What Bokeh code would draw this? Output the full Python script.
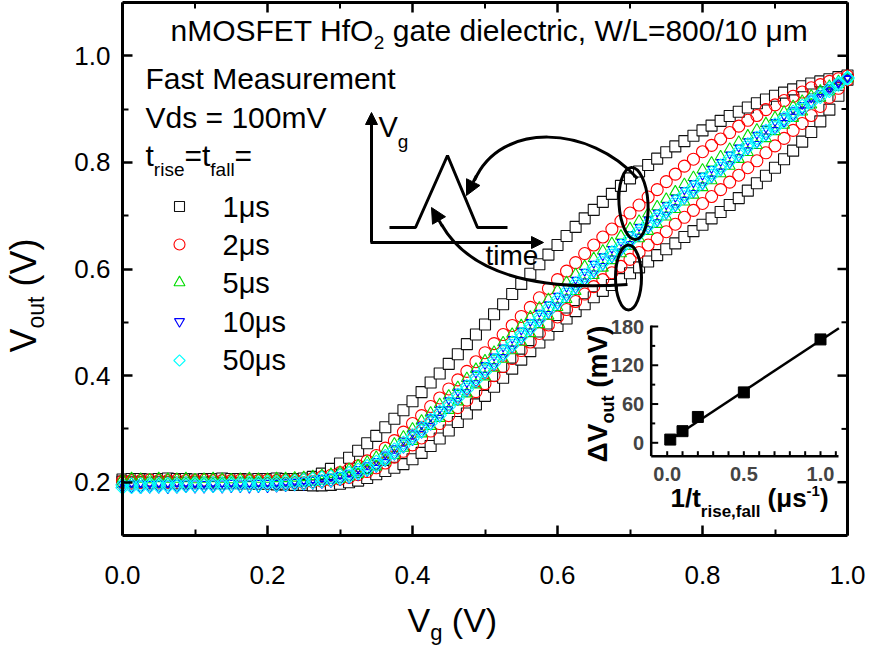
import math
from bokeh.plotting import figure
from bokeh.models import (Label, Arrow, NormalHead, FixedTicker, Range1d,
                          NumeralTickFormatter)
from bokeh.embed import file_html
from bokeh.resources import INLINE

# ---------------- data ----------------
VG = [0.0, 0.0125, 0.025, 0.0375, 0.05, 0.0625, 0.075, 0.0875, 0.1, 0.1125,
      0.125, 0.1375, 0.15, 0.1625, 0.175, 0.1875, 0.2, 0.2125, 0.225, 0.2375,
      0.25, 0.2625, 0.275, 0.2875, 0.3, 0.3125, 0.325, 0.3375, 0.35, 0.3625,
      0.375, 0.3875, 0.4, 0.4125, 0.425, 0.4375, 0.45, 0.4625, 0.475, 0.4875,
      0.5, 0.5125, 0.525, 0.5375, 0.55, 0.5625, 0.575, 0.5875, 0.6, 0.6125,
      0.625, 0.6375, 0.65, 0.6625, 0.675, 0.6875, 0.7, 0.7125, 0.725, 0.7375,
      0.75, 0.7625, 0.775, 0.7875, 0.8, 0.8125, 0.825, 0.8375, 0.85, 0.8625,
      0.875, 0.8875, 0.9, 0.9125, 0.925, 0.9375, 0.95, 0.9625, 0.975, 0.9875, 1.0]

# t_rise = t_fall = 1 us
BLACK_UP = [0.205, 0.206, 0.206, 0.205, 0.206, 0.207, 0.206, 0.206, 0.205, 0.206,
            0.206, 0.207, 0.206, 0.206, 0.205, 0.206, 0.206, 0.207, 0.206, 0.206,
            0.207, 0.210, 0.216, 0.225, 0.235, 0.246, 0.259, 0.273, 0.287, 0.303,
            0.319, 0.335, 0.352, 0.369, 0.387, 0.404, 0.422, 0.440, 0.459, 0.477,
            0.496, 0.515, 0.534, 0.553, 0.572, 0.591, 0.609, 0.627, 0.645, 0.662,
            0.679, 0.695, 0.711, 0.726, 0.741, 0.756, 0.770, 0.783, 0.795, 0.807,
            0.819, 0.830, 0.840, 0.850, 0.860, 0.869, 0.878, 0.887, 0.895, 0.903,
            0.911, 0.918, 0.925, 0.931, 0.937, 0.943, 0.948, 0.952, 0.956, 0.960, 0.963]
BLACK_DN = [0.201, 0.200, 0.200, 0.199, 0.200, 0.200, 0.199, 0.199, 0.200, 0.199,
            0.199, 0.198, 0.199, 0.198, 0.198, 0.197, 0.197, 0.196, 0.196, 0.195,
            0.195, 0.194, 0.194, 0.195, 0.197, 0.200, 0.203, 0.208, 0.215, 0.221,
            0.227, 0.234, 0.243, 0.255, 0.268, 0.282, 0.297, 0.313, 0.329, 0.346,
            0.362, 0.379, 0.396, 0.413, 0.430, 0.446, 0.462, 0.477, 0.493, 0.507,
            0.521, 0.534, 0.547, 0.559, 0.570, 0.581, 0.592, 0.603, 0.614, 0.626,
            0.637, 0.648, 0.660, 0.671, 0.683, 0.695, 0.707, 0.720, 0.733, 0.747,
            0.761, 0.775, 0.790, 0.806, 0.822, 0.839, 0.857, 0.877, 0.899, 0.925, 0.955]
# 2 us
RED_UP = [0.202, 0.203, 0.203, 0.204, 0.203, 0.203, 0.204, 0.203, 0.203, 0.204,
          0.203, 0.203, 0.203, 0.204, 0.203, 0.203, 0.204, 0.203, 0.204, 0.204,
          0.204, 0.207, 0.210, 0.213, 0.218, 0.224, 0.231, 0.240, 0.250, 0.264,
          0.278, 0.294, 0.310, 0.325, 0.342, 0.358, 0.375, 0.392, 0.408, 0.426,
          0.443, 0.460, 0.477, 0.494, 0.511, 0.528, 0.546, 0.563, 0.580, 0.596,
          0.612, 0.629, 0.645, 0.660, 0.675, 0.690, 0.705, 0.720, 0.735, 0.749,
          0.764, 0.778, 0.793, 0.806, 0.820, 0.832, 0.844, 0.856, 0.868, 0.879,
          0.888, 0.899, 0.908, 0.916, 0.924, 0.932, 0.940, 0.946, 0.952, 0.957, 0.962]
RED_DN = [0.198, 0.198, 0.199, 0.198, 0.198, 0.199, 0.198, 0.198, 0.199, 0.198,
          0.198, 0.198, 0.199, 0.198, 0.198, 0.198, 0.198, 0.199, 0.198, 0.199,
          0.199, 0.201, 0.202, 0.204, 0.206, 0.209, 0.214, 0.220, 0.227, 0.236,
          0.247, 0.258, 0.270, 0.283, 0.296, 0.310, 0.325, 0.340, 0.354, 0.370,
          0.385, 0.400, 0.417, 0.432, 0.447, 0.463, 0.479, 0.495, 0.510, 0.524,
          0.539, 0.553, 0.567, 0.580, 0.593, 0.605, 0.618, 0.631, 0.645, 0.657,
          0.670, 0.684, 0.697, 0.710, 0.723, 0.736, 0.749, 0.763, 0.776, 0.790,
          0.803, 0.818, 0.831, 0.845, 0.860, 0.873, 0.888, 0.905, 0.922, 0.939, 0.955]
# 5 us
GREEN_UP = [0.206, 0.207, 0.206, 0.205, 0.207, 0.206, 0.206, 0.207, 0.205, 0.206,
            0.207, 0.206, 0.205, 0.206, 0.207, 0.206, 0.206, 0.207, 0.207, 0.208,
            0.209, 0.211, 0.213, 0.215, 0.219, 0.224, 0.231, 0.238, 0.247, 0.259,
            0.272, 0.285, 0.300, 0.315, 0.330, 0.346, 0.362, 0.378, 0.395, 0.412,
            0.428, 0.444, 0.462, 0.478, 0.494, 0.510, 0.527, 0.543, 0.560, 0.575,
            0.590, 0.605, 0.620, 0.634, 0.648, 0.662, 0.676, 0.690, 0.704, 0.717,
            0.731, 0.745, 0.759, 0.772, 0.786, 0.799, 0.811, 0.825, 0.838, 0.850,
            0.861, 0.873, 0.884, 0.895, 0.905, 0.915, 0.925, 0.934, 0.943, 0.952, 0.960]
GREEN_DN = [0.198, 0.197, 0.198, 0.198, 0.197, 0.198, 0.198, 0.197, 0.198, 0.198,
            0.197, 0.198, 0.198, 0.197, 0.198, 0.198, 0.198, 0.198, 0.198, 0.199,
            0.199, 0.200, 0.202, 0.204, 0.206, 0.210, 0.215, 0.222, 0.229, 0.240,
            0.251, 0.264, 0.277, 0.291, 0.305, 0.320, 0.335, 0.351, 0.366, 0.383,
            0.398, 0.414, 0.431, 0.447, 0.463, 0.479, 0.496, 0.512, 0.528, 0.543,
            0.558, 0.573, 0.588, 0.602, 0.616, 0.629, 0.643, 0.657, 0.671, 0.684,
            0.698, 0.712, 0.726, 0.739, 0.753, 0.766, 0.779, 0.793, 0.806, 0.819,
            0.832, 0.845, 0.858, 0.870, 0.883, 0.895, 0.908, 0.921, 0.933, 0.946, 0.957]
# 10 us
BLUE_UP = [0.197, 0.198, 0.198, 0.197, 0.198, 0.198, 0.199, 0.198, 0.198, 0.197,
           0.198, 0.198, 0.199, 0.198, 0.198, 0.199, 0.199, 0.199, 0.200, 0.201,
           0.203, 0.205, 0.208, 0.210, 0.214, 0.218, 0.225, 0.232, 0.240, 0.252,
           0.264, 0.278, 0.292, 0.307, 0.322, 0.337, 0.354, 0.370, 0.386, 0.404,
           0.420, 0.436, 0.453, 0.469, 0.485, 0.501, 0.518, 0.534, 0.550, 0.565,
           0.580, 0.595, 0.610, 0.624, 0.638, 0.651, 0.665, 0.679, 0.693, 0.706,
           0.720, 0.734, 0.748, 0.761, 0.775, 0.788, 0.801, 0.815, 0.828, 0.840,
           0.852, 0.864, 0.876, 0.887, 0.898, 0.908, 0.920, 0.930, 0.940, 0.950, 0.959]
BLUE_DN = [0.187, 0.188, 0.187, 0.188, 0.188, 0.187, 0.188, 0.189, 0.188, 0.188,
           0.189, 0.188, 0.189, 0.189, 0.188, 0.189, 0.189, 0.190, 0.191, 0.192,
           0.193, 0.195, 0.197, 0.199, 0.202, 0.206, 0.212, 0.219, 0.227, 0.238,
           0.250, 0.263, 0.277, 0.291, 0.306, 0.321, 0.337, 0.353, 0.369, 0.386,
           0.402, 0.418, 0.435, 0.451, 0.467, 0.483, 0.500, 0.516, 0.532, 0.547,
           0.562, 0.577, 0.592, 0.606, 0.620, 0.633, 0.647, 0.661, 0.675, 0.688,
           0.702, 0.716, 0.730, 0.743, 0.757, 0.770, 0.783, 0.797, 0.810, 0.823,
           0.835, 0.849, 0.861, 0.874, 0.886, 0.898, 0.911, 0.923, 0.935, 0.947, 0.957]
# 50 us
CYAN_UP = [0.195, 0.196, 0.196, 0.197, 0.197, 0.197, 0.197, 0.198, 0.198, 0.198,
           0.198, 0.198, 0.199, 0.199, 0.199, 0.199, 0.200, 0.200, 0.201, 0.202,
           0.204, 0.206, 0.208, 0.210, 0.213, 0.217, 0.223, 0.230, 0.238, 0.249,
           0.261, 0.274, 0.288, 0.302, 0.317, 0.332, 0.348, 0.364, 0.380, 0.397,
           0.413, 0.429, 0.446, 0.462, 0.478, 0.494, 0.511, 0.527, 0.543, 0.558,
           0.573, 0.588, 0.603, 0.617, 0.631, 0.644, 0.658, 0.672, 0.686, 0.699,
           0.713, 0.727, 0.741, 0.754, 0.768, 0.781, 0.794, 0.808, 0.821, 0.834,
           0.846, 0.859, 0.871, 0.883, 0.895, 0.906, 0.917, 0.928, 0.939, 0.949, 0.959]
CYAN_DN = [0.190, 0.191, 0.191, 0.192, 0.192, 0.192, 0.192, 0.193, 0.193, 0.193,
           0.193, 0.193, 0.194, 0.194, 0.194, 0.194, 0.195, 0.195, 0.196, 0.197,
           0.198, 0.200, 0.202, 0.204, 0.207, 0.211, 0.217, 0.224, 0.232, 0.243,
           0.255, 0.268, 0.282, 0.296, 0.311, 0.326, 0.342, 0.358, 0.374, 0.391,
           0.407, 0.423, 0.440, 0.456, 0.472, 0.488, 0.505, 0.521, 0.537, 0.552,
           0.567, 0.582, 0.597, 0.611, 0.625, 0.638, 0.652, 0.666, 0.680, 0.693,
           0.707, 0.721, 0.735, 0.748, 0.762, 0.775, 0.788, 0.802, 0.815, 0.828,
           0.840, 0.853, 0.865, 0.877, 0.889, 0.900, 0.912, 0.923, 0.934, 0.946, 0.957]

LEGEND_LABELS = ["1μs", "2μs", "5μs", "10μs", "50μs"]

# inset: hysteresis vs 1/t_rise,fall
INSET_INV_T = [0.02, 0.1, 0.2, 0.5, 1.0]
INSET_DV = [5, 18, 40, 78, 160]
FIT_INV_T = [0.0, 1.12]
FIT_DV = [1.5, 177.3]

XTICKS = [0.0, 0.2, 0.4, 0.6, 0.8, 1.0]
XMINOR = [0.1, 0.3, 0.5, 0.7, 0.9]
YTICKS = [0.2, 0.4, 0.6, 0.8, 1.0]
YMINOR = [0.3, 0.5, 0.7, 0.9]
INSET_XTICKS = [0.0, 0.5, 1.0]
INSET_XMINOR = [0.0, 0.1, 0.2, 0.3, 0.4, 0.5, 0.6, 0.7, 0.8, 0.9, 1.0, 1.1]
INSET_YTICKS = [0, 60, 120, 180]
INSET_YMINOR = [30, 90, 150]

# ---------------- layout constants (page pixels) ----------------
W, H = 869, 647
FL, FR, FT, FB = 122, 847, 2, 535      # the plot box
X0, X1, Y0, Y1 = 0.0, 1.0, 0.1, 1.1    # data limits of the plot box
FONT = "Liberation Sans"
MID = 0.36                             # cap-centre above the baseline, in em


def dx(px):
    return X0 + (px - FL) / (FR - FL) * (X1 - X0)


def dy(py):
    return Y1 - (py - FT) / (FB - FT) * (Y1 - Y0)


IPX0, IPX1 = 666.7, 820.0
IPY0, IPY180 = 442.3, 326.0
isx = (IPX1 - IPX0)
isy = (IPY0 - IPY180) / 180.0
IX_RANGE = Range1d((0 - IPX0) / isx, (W - IPX0) / isx)
IY_RANGE = Range1d((IPY0 - H) / isy, (IPY0 - 0) / isy)
INSET_XLIM = ((650.7 - IPX0) / isx, (838.0 - IPX0) / isx)
INSET_YLIM = ((IPY0 - 455.7) / isy, (IPY0 - 325.0) / isy)

AW = {' ': 278, '(': 333, ')': 333, ',': 278, '-': 333, '.': 278, '/': 278, '=': 584,
      'D': 722, 'E': 667, 'F': 611, 'H': 722, 'L': 556, 'M': 833, 'O': 778, 'S': 667,
      'T': 611, 'V': 667, 'W': 944, 'a': 556, 'c': 500, 'd': 556, 'e': 556, 'f': 278,
      'g': 556, 'i': 222, 'l': 222, 'm': 833, 'n': 556, 'o': 556, 'r': 333, 's': 500,
      't': 278, 'u': 556, 'μ': 576, 'Δ': 668}
BW = {' ': 278, '(': 333, ')': 333, ',': 278, '-': 333, '.': 278, '/': 278,
      'V': 667, 'a': 556, 'e': 556, 'f': 333, 'i': 278, 'l': 278, 'm': 889, 'o': 611,
      'r': 389, 's': 556, 't': 333, 'u': 611, 'μ': 611, 'Δ': 722}


def tw(s, size, bold=False):
    tab = BW if bold else AW
    return sum(tab.get(c, 556) for c in s) * size / 1000.0


# the frame covers the whole canvas; the plot box is drawn by fixed-location axes
p = figure(width=W, height=H, x_range=Range1d(dx(0), dx(W)), y_range=Range1d(dy(H), dy(0)),
           output_backend="svg", toolbar_location=None, title=None, min_border=0)
p.extra_x_ranges = {"ix": IX_RANGE}
p.extra_y_ranges = {"iy": IY_RANGE}
p.xgrid.visible = False
p.ygrid.visible = False
p.outline_line_color = None
p.background_fill_color = "white"
p.border_fill_color = "white"


def rich(px0, py0, pieces, angle=0.0):
    """Place text pieces one after another; (px0, py0) is the baseline start."""
    pos = 0.0
    for text, size, shift, bold in pieces:
        lead = len(text) - len(text.lstrip(" "))
        pos += tw(" " * lead, size, bold)
        text = text.lstrip(" ")
        if angle == 0.0:
            x, y = px0 + pos, py0 + shift - MID * size
        else:
            x, y = px0 + shift - MID * size, py0 - pos
        p.add_layout(Label(x=dx(x), y=dy(y), text=text, angle=angle,
                           text_font=FONT, text_font_size=f"{size}px",
                           text_font_style="bold" if bold else "normal",
                           text_align="left", text_baseline="middle",
                           text_color="black"))
        pos += tw(text, size, bold)


def style_axis(ax, ticks, minor, standoff, loc, bounds):
    ax.fixed_location = loc
    ax.bounds = bounds
    ax.ticker = FixedTicker(ticks=ticks, minor_ticks=minor)
    ax.axis_line_width = 3
    ax.axis_line_color = "black"
    ax.major_tick_in = 10
    ax.major_tick_out = 0
    ax.minor_tick_in = 6
    ax.minor_tick_out = 0
    ax.major_tick_line_width = 2.5
    ax.minor_tick_line_width = 2
    ax.major_tick_line_color = "black"
    ax.minor_tick_line_color = "black"
    ax.formatter = NumeralTickFormatter(format="0.0")
    ax.major_label_text_font = FONT
    ax.major_label_text_font_size = "26px"
    ax.major_label_text_color = "black"
    ax.major_label_standoff = standoff


style_axis(p.xaxis[0], XTICKS, XMINOR, 30, Y0, (X0, X1))
style_axis(p.yaxis[0], YTICKS, YMINOR, 12, X0, (Y0, Y1))

# top and right sides of the box, with mirrored ticks
p.segment(x0=[X0, X1], y0=[Y1, Y0], x1=[X1, X1], y1=[Y1, Y1], line_width=3,
          line_color="black")
mj_y = 10 / (FB - FT) * (Y1 - Y0)
mn_y = 6 / (FB - FT) * (Y1 - Y0)
mj_x = 10 / (FR - FL) * (X1 - X0)
mn_x = 6 / (FR - FL) * (X1 - X0)
p.segment(x0=XTICKS, y0=[Y1] * len(XTICKS), x1=XTICKS, y1=[Y1 - mj_y] * len(XTICKS),
          line_width=2.5, line_color="black")
p.segment(x0=XMINOR, y0=[Y1] * len(XMINOR), x1=XMINOR, y1=[Y1 - mn_y] * len(XMINOR),
          line_width=2, line_color="black")
p.segment(x0=[X1] * len(YTICKS), y0=YTICKS, x1=[X1 - mj_x] * len(YTICKS), y1=YTICKS,
          line_width=2.5, line_color="black")
p.segment(x0=[X1] * len(YMINOR), y0=YMINOR, x1=[X1 - mn_x] * len(YMINOR), y1=YMINOR,
          line_width=2, line_color="black")

# ---------------- main data ----------------
SERIES = [
    (BLACK_UP, BLACK_DN, "square", 11, "#111111", "white", 0.0),
    (RED_UP, RED_DN, "circle", 12, "red", None, 0.0),
    (GREEN_UP, GREEN_DN, "triangle", 11, "#00dd00", None, 0.0),
    (BLUE_UP, BLUE_DN, "inverted_triangle", 8, "blue", None, 0.0),
    (CYAN_UP, CYAN_DN, "square", 9.5, "cyan", None, math.pi / 4),
]
for up, dn, mk, sz, col, fill, ang in SERIES:
    for branch in (up, dn):
        p.scatter(VG, branch, marker=mk, size=sz, line_color=col, fill_color=fill,
                  line_width=1.1, angle=ang)

# title & notes
rich(170, 41, [("nMOSFET HfO", 30, 0, False), ("2", 19, 8, False),
               (" gate dielectric, W/L=800/10 μm", 30, 0, False)])
rich(145, 89, [("Fast Measurement", 30, 0, False)])
rich(145, 128, [("Vds = 100mV", 30, 0, False)])
rich(145, 166, [("t", 30, 0, False), ("rise", 19, 10, False), ("=t", 30, 0, False),
                ("fall", 19, 10, False), ("=", 30, 0, False)])

# legend
LEG_Y = [206, 244, 282, 321, 360]
LEG_BASE = [217, 255, 293, 332, 370]
LEG_MK = [("square", 10, "#111111", 0.0), ("circle", 11, "red", 0.0),
          ("triangle", 11, "#00dd00", 0.0), ("inverted_triangle", 10, "blue", 0.0),
          ("square", 8, "cyan", math.pi / 4)]
for lab, yy, yb, (mk, sz, col, ang) in zip(LEGEND_LABELS, LEG_Y, LEG_BASE, LEG_MK):
    p.scatter([dx(179)], [dy(yy)], marker=mk, size=sz, line_color=col,
              fill_color=None, line_width=1.1, angle=ang)
    rich(222, yb, [(lab, 29, 0, False)])

# axis titles
rich(36, 352, [("V", 36, 0, False), ("out", 23, 8, False), (" (V)", 36, 0, False)],
     angle=math.pi / 2)
rich(407, 632, [("V", 34, 0, False), ("g", 22, 8, False), (" (V)", 34, 0, False)])

# ---------------- schematic ----------------
p.line([dx(389), dx(415), dx(447), dx(477), dx(507)],
       [dy(227), dy(227), dy(155), dy(227), dy(227)], line_width=3, line_color="black")
p.add_layout(Arrow(end=NormalHead(size=12, fill_color="black", line_color="black"),
                   x_start=dx(371), y_start=dy(242), x_end=dx(371), y_end=dy(112),
                   line_width=3, line_color="black"))
p.add_layout(Arrow(end=NormalHead(size=12, fill_color="black", line_color="black"),
                   x_start=dx(370), y_start=dy(242), x_end=dx(543), y_end=dy(242),
                   line_width=3, line_color="black"))
rich(378, 137, [("V", 29, 0, False), ("g", 19, 11, False)])
rich(485, 265, [("time", 28, 0, False)])

p.ellipse(x=[dx(633), dx(628)], y=[dy(203), dy(277)], width=[29, 26], height=[72, 65],
          width_units="screen", height_units="screen", angle=[0.06, 0.0],
          fill_color=None, line_color="black", line_width=3)
p.bezier(x0=[dx(637), dx(627)], y0=[dy(178), dy(284)],
         cx0=[dx(590), dx(540)], cy0=[dy(125), dy(290)],
         cx1=[dx(500), dx(470)], cy1=[dy(120), dy(275)],
         x1=[dx(474), dx(441)], y1=[dy(180), dy(224)],
         line_width=3, line_color="black")
p.add_layout(Arrow(end=NormalHead(size=15, fill_color="black", line_color="black"),
                   x_start=dx(476), y_start=dy(175), x_end=dx(466), y_end=dy(195),
                   line_width=3, line_color="black"))
p.add_layout(Arrow(end=NormalHead(size=15, fill_color="black", line_color="black"),
                   x_start=dx(442), y_start=dy(226), x_end=dx(431), y_end=dy(207),
                   line_width=3, line_color="black"))

# ---------------- inset ----------------
IR = dict(x_range_name="ix", y_range_name="iy")
xl0, xl1 = INSET_XLIM
yl0, yl1 = INSET_YLIM
p.line([xl0, xl1], [yl0, yl0], line_width=2.5, line_color="black", **IR)
p.line([xl0, xl0], [yl0, yl1], line_width=2.5, line_color="black", **IR)
p.segment(x0=INSET_XMINOR, y0=[yl0] * len(INSET_XMINOR), x1=INSET_XMINOR,
          y1=[yl0 + 5 / isy] * len(INSET_XMINOR), line_width=2, line_color="black", **IR)
p.segment(x0=[xl0] * len(INSET_YTICKS), y0=INSET_YTICKS,
          x1=[xl0 + 7 / isx] * len(INSET_YTICKS), y1=INSET_YTICKS,
          line_width=2, line_color="black", **IR)
p.segment(x0=[xl0] * len(INSET_YMINOR), y0=INSET_YMINOR,
          x1=[xl0 + 4 / isx] * len(INSET_YMINOR), y1=INSET_YMINOR,
          line_width=2, line_color="black", **IR)
p.line(FIT_INV_T, FIT_DV, line_width=2.5, line_color="black", **IR)
p.scatter(INSET_INV_T, INSET_DV, marker="square", size=11, line_color="black",
          fill_color="black", **IR)
for t in INSET_XTICKS:
    p.add_layout(Label(x=t, y=yl0, y_offset=-11, text=f"{t:.1f}", x_range_name="ix",
                       y_range_name="iy", text_font=FONT, text_font_size="20px",
                       text_font_style="bold", text_align="center", text_baseline="top"))
for t in INSET_YTICKS:
    p.add_layout(Label(x=xl0, x_offset=-7, y=t, text=f"{t}", x_range_name="ix",
                       y_range_name="iy", text_font=FONT, text_font_size="20px",
                       text_font_style="bold", text_align="right", text_baseline="middle"))
rich(670, 507, [("1/t", 26, 0, True), ("rise,fall", 17, 10, True), (" (μs", 26, 0, True),
                ("-1", 15, -11, True), (")", 26, 0, True)])
rich(607, 462, [("Δ", 28, 0, True), ("V", 28, 0, True), ("out", 18, 7, True),
                (" (mV)", 28, 0, True)], angle=math.pi / 2)

open("out.html", "w").write(file_html(p, INLINE))
